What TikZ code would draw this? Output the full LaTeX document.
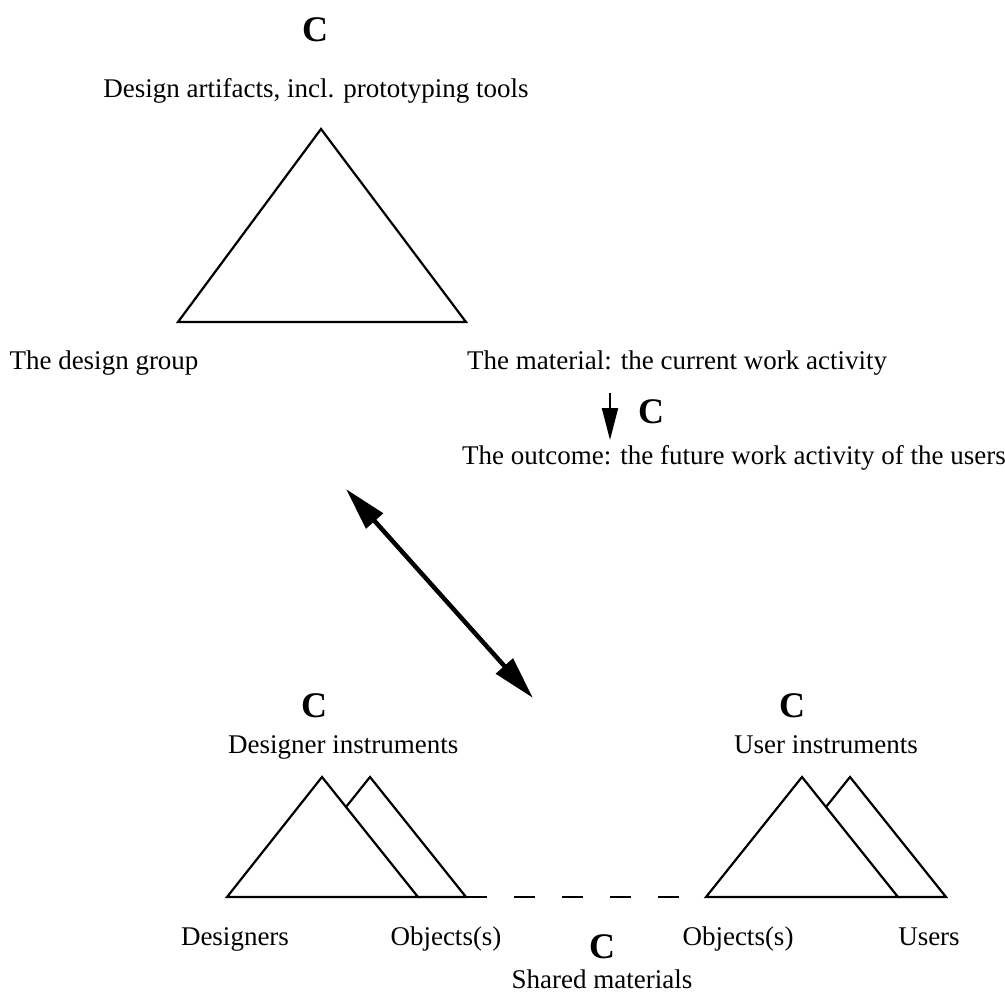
\documentclass[tikz,border=0pt]{standalone}
\usepackage{fontspec}
\setmainfont{Liberation Serif}
\usetikzlibrary{arrows.meta}
\begin{document}
\begin{tikzpicture}[x=1pt,y=-1pt,
  lbl/.style={inner sep=0pt, anchor=base, font=\fontsize{27}{32}\selectfont},
  ctx/.style={inner sep=0pt, anchor=base, font=\fontsize{36}{40}\selectfont\bfseries},
  tri/.style={line width=2.2pt, line join=miter},
  shared/.style={line width=2.2pt, dash pattern=on 21pt off 27pt},
  flow/.style={line width=2pt, -{Triangle[length=32pt,width=16pt]}},
  mediate/.style={line width=4.5pt, {Triangle[length=43pt,width=22pt]}-{Triangle[length=43pt,width=22pt]}}
]
\useasboundingbox (0,0) rectangle (1005,996);

% design activity triangle
\draw[tri] (321,129) -- (466,322) -- (178,322) -- cycle;
\node[ctx] (cTop) at (315,41) {C};
\node[lbl] (artifacts) at (316,97) {Design artifacts, incl. prototyping tools};
\node[lbl] (group) at (104,369) {The design group};
\node[lbl, anchor=base west] (material) at (467,369) {The material: the current work activity};

% transformation of the material into the outcome
\coordinate (flowStart) at (610,393);
\coordinate (flowEnd) at (610,440);
\draw[flow] (flowStart) -- (flowEnd);
\node[ctx] (cFlow) at (651,423) {C};
\node[lbl, anchor=base west] (outcome) at (462,464) {The outcome: the future work activity of the users};

% link between the two levels
\coordinate (linkTop) at (346,489);
\coordinate (linkBottom) at (533,698);
\draw[mediate] (linkTop) -- (linkBottom);

% designers' activity
\draw[tri] (322,777) -- (418,897) -- (227,897) -- cycle;
\draw[tri] (346,807) -- (370,777) -- (466,897) -- (418,897);
\node[ctx] (cDes) at (314,717) {C};
\node[lbl, anchor=base west] (desInst) at (228,753) {Designer instruments};

% users' activity
\draw[tri] (802,777) -- (898,897) -- (706,897) -- cycle;
\draw[tri] (826,807) -- (850,777) -- (946,897) -- (898,897);
\node[ctx] (cUser) at (792,717) {C};
\node[lbl, anchor=base west] (userInst) at (734,753) {User instruments};

% shared material between the two activities
\coordinate (sharedL) at (466,897);
\coordinate (sharedR) at (706,897);
\draw[shared] (sharedL) -- (sharedR);

\node[lbl] (designers) at (235,945) {Designers};
\node[lbl] (objDes) at (446,945) {Objects(s)};
\node[ctx] (cShared) at (602,958) {C};
\node[lbl] (objUser) at (738,945) {Objects(s)};
\node[lbl] (users) at (929,945) {Users};
\node[lbl] (sharedMat) at (602,988) {Shared materials};
\end{tikzpicture}
\end{document}
